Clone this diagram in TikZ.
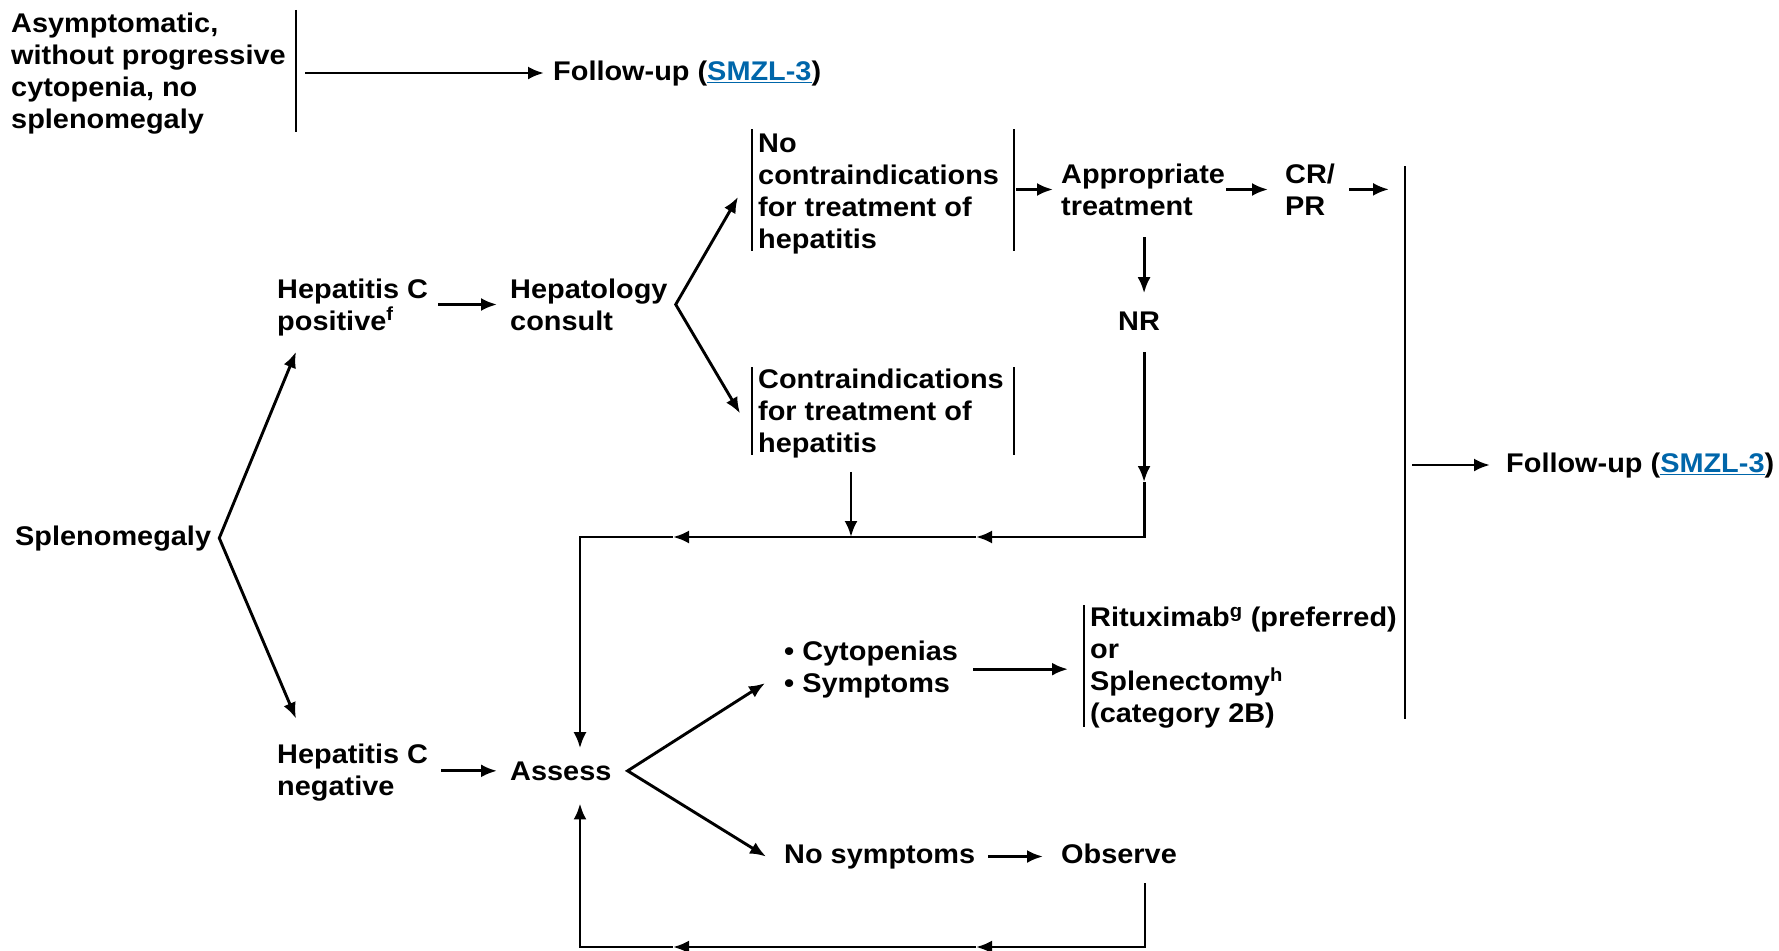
\documentclass[tikz,border=0pt]{standalone}
\usepackage{fontspec}
\setmainfont{Liberation Sans}[FakeStretch=1.07]
\usetikzlibrary{arrows.meta}
\definecolor{linkBlue}{RGB}{0,102,170}
\newcommand{\smzlRef}{(\textcolor{linkBlue}{\underline{SMZL-3}})}

\begin{document}
\begin{tikzpicture}[x=1pt,y=-1pt,
  txt/.style={anchor=base west,align=left,inner sep=0pt,
    font=\fontsize{27}{31.7}\selectfont\bfseries},
  line/.style={line width=2.9pt},
  arr/.style={line,-{Latex[length=16pt,width=13pt]}},
  fork/.style={line,{Latex[length=16pt,width=13pt]}-{Latex[length=16pt,width=13pt]}},
  bar/.style={line width=2.1pt}]
  \useasboundingbox (0,0) rectangle (1779,950);

  % Asymptomatic branch
  \node[txt] (asym) at (11,128) {Asymptomatic,\\without progressive\\cytopenia, no\\splenomegaly};
  \node[txt] (fuTop) at (553,80) {Follow-up \smzlRef};
  \coordinate (asymBar) at (296,10);
  \draw[bar] (asymBar) -- ++(0,122);
  \draw[arr, shorten <=9pt, shorten >=9pt] (fuTop.west -| asymBar) -- (fuTop.west);

  % Splenomegaly and hepatitis C status
  \node[txt] (spl) at (15,545) {Splenomegaly};
  \node[txt] (hcPos) at (277,330) {Hepatitis C\\positive\textsuperscript{f}};
  \node[txt] (hcNeg) at (277,795) {Hepatitis C\\negative};
  \coordinate (splFork) at ([xshift=8pt]spl.east);
  \draw[fork] ([xshift=19pt,yshift=-16pt]hcPos.south west) -- (splFork)
    -- ([xshift=19pt,yshift=25pt]hcNeg.north west);

  % Hepatitis C positive
  \node[txt] (hcConsult) at (510,330) {Hepatology\\consult};
  \draw[arr, shorten <=10pt, shorten >=13pt] (hcConsult.west -| hcPos.east) -- (hcConsult.west);
  \node[txt] (noCI) at (758,248) {No\\contraindications\\for treatment of\\hepatitis};
  \node[txt] (withCI) at (758,452) {Contraindications\\for treatment of\\hepatitis};
  \coordinate (consultFork) at ([xshift=8pt]hcConsult.east);
  \draw[fork] ([xshift=-20pt,yshift=-3pt]noCI.west) -- (consultFork)
    -- ([xshift=-18pt]withCI.west);
  \coordinate (noCIBar) at (1014,129);
  \draw[bar] (752,129) -- (752,251);
  \draw[bar] (noCIBar) -- ++(0,122);
  \draw[bar] (752,367) -- (752,455);
  \draw[bar] (1014,367) -- (1014,455);

  % Treatment of hepatitis
  \node[txt] (approp) at (1061,215) {Appropriate\\treatment};
  \node[txt] (crpr) at (1285,215) {CR/\\PR};
  \node[txt] (nr) at (1118,330) {NR};
  \coordinate (nrIn) at ([xshift=5pt]nr.north);
  \coordinate (nrOut) at ([xshift=5pt]nr.south);
  \draw[arr, shorten <=2pt, shorten >=8pt] (approp.west -| noCIBar) -- (approp.west);
  \draw[arr, shorten <=1pt, shorten >=17pt] (approp.east) -- (approp.east -| crpr.west);
  \draw[arr, shorten <=22pt, shorten >=18pt] (approp.south -| nrIn) -- (nrIn);

  % Return to assess
  \coordinate (nrMid) at (nrOut |- 0,482);
  \coordinate (nrCorner) at (nrOut |- 0,537);
  \coordinate (loopMidA) at (976,537);
  \coordinate (loopMidB) at (673,537);
  \coordinate (ciDrop) at ([xshift=93pt]withCI.south west);
  \draw[arr, shorten <=22pt] (nrOut) -- (nrMid);
  \draw[arr] (nrMid) -- (nrCorner) -- (loopMidA);
  \draw[arr] (loopMidA) -- (loopMidB);
  \draw[arr, shorten <=14pt] (ciDrop) -- (ciDrop |- nrCorner);

  % Assess
  \node[txt] (assess) at (510,780) {Assess};
  \coordinate (assessTop) at ([xshift=70pt,yshift=13pt]assess.north west);
  \coordinate (assessBottom) at ([xshift=70pt,yshift=-23pt]assess.south west);
  \draw[arr] (loopMidB) -| (assessTop);
  \draw[arr, shorten <=13pt, shorten >=13pt] (assess.west -| hcNeg.east) -- (assess.west);
  \node[txt] (cyto) at (784,692) {• Cytopenias\\• Symptoms};
  \node[txt] (noSym) at (784,863) {No symptoms};
  \coordinate (assessFork) at ([xshift=16pt]assess.east);
  \draw[fork] ([xshift=-19pt,yshift=-14pt]cyto.west) -- (assessFork)
    -- ([xshift=-18pt]noSym.west);

  % Cytopenias or symptoms
  \node[txt] (ritux) at (1090,722) {Rituximab\textsuperscript{g} (preferred)\\or\\Splenectomy\textsuperscript{h}\\(category 2B)};
  \draw[bar] (1084,605) -- (1084,727);
  \draw[arr, shorten <=15pt, shorten >=22pt] (cyto.east) -- (cyto.east -| ritux.west);

  % No symptoms
  \node[txt] (observe) at (1061,863) {Observe};
  \draw[arr, shorten <=13pt, shorten >=18pt] (noSym.east) -- (noSym.east -| observe.west);
  \coordinate (obsDrop) at ([xshift=84pt]observe.south west);
  \coordinate (obsCorner) at (obsDrop |- 0,947);
  \coordinate (loopLowA) at (976,947);
  \coordinate (loopLowB) at (673,947);
  \draw[arr, shorten <=20pt] (obsDrop) -- (obsCorner) -- (loopLowA);
  \draw[arr] (loopLowA) -- (loopLowB);
  \draw[arr] (loopLowB) -| (assessBottom);

  % Follow-up after response
  \coordinate (bigBar) at (1405,166);
  \draw[bar] (bigBar) -- (1405,719);
  \node[txt] (fuRight) at (1506,472) {Follow-up \smzlRef};
  \draw[arr, shorten <=14pt, shorten >=16pt] (crpr.east) -- (crpr.east -| bigBar);
  \draw[arr, shorten <=7pt, shorten >=16pt] (fuRight.west -| bigBar) -- (fuRight.west);
\end{tikzpicture}
\end{document}
